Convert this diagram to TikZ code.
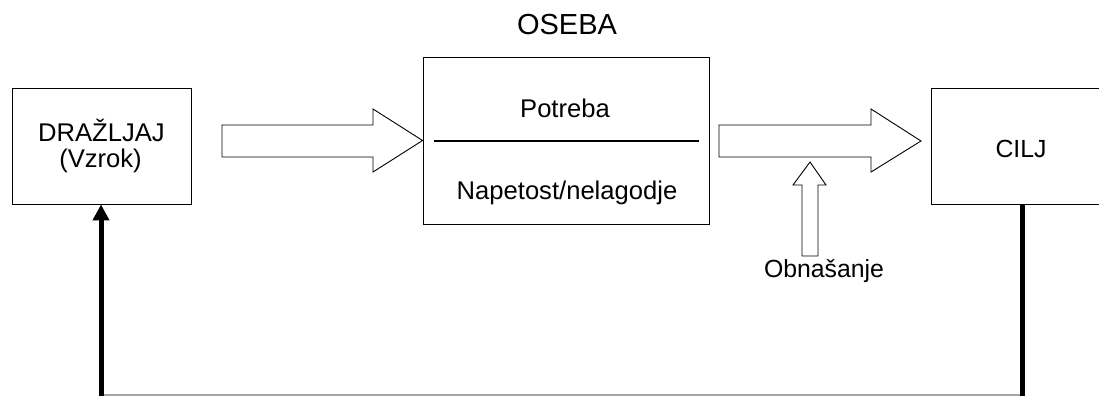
\documentclass[tikz,border=0pt]{standalone}
\usepackage{fontspec}
\setmainfont{Liberation Sans}
\usetikzlibrary{arrows.meta}

\tikzset{
  box/.style={draw=black, line width=0.9pt, fill=white, rectangle, inner sep=0pt},
  lbl/.style={inner sep=0pt, anchor=base, font=\fontsize{25.6}{30}\selectfont},
  lblsmall/.style={inner sep=0pt, anchor=base, font=\fontsize{24.8}{29}\selectfont},
  blockarrow/.style={draw=black, line width=0.9pt, fill=white, line join=miter},
  feedback/.style={line width=5pt, black},
  baseline line/.style={line width=1.5pt, black!35}
}

\begin{document}
\begin{tikzpicture}[x=1pt, y=-1pt]
  \useasboundingbox (0,0) rectangle (1099,396);
  \clip (0,0) rectangle (1099,396);

  % boxes
  \node[box, minimum width=179pt, minimum height=116pt] (stim) at (101.5,146) {};
  \node[box, minimum width=286pt, minimum height=167pt] (person) at (566,140.5) {};
  \node[box, minimum width=180pt, minimum height=116pt] (goal) at (1021,146) {};

  % texts
  \node[lbl] (stimtxt) at (101.5,141) {DRAŽLJAJ};
  \node[lbl] (causetxt) at (100.5,167) {(Vzrok)};
  \node[inner sep=0pt, anchor=base, font=\fontsize{29}{33}\selectfont] (persontitle) at (567,35) {OSEBA};
  \node[lbl] (needtxt) at (565,117) {Potreba};
  \node[lbl] (tensiontxt) at (567,199) {Napetost/nelagodje};
  \node[lblsmall] (goaltxt) at (1021,157) {CILJ};
  \node[lblsmall] (behavtxt) at (824,277) {Obnašanje};

  % divider inside the person box
  \draw[line width=2pt] (434,141) -- (699,141);

  % block arrows
  \draw[blockarrow] (222,125) -- (373,125) -- (373,109) -- (person.west) -- (373,172) -- (373,157) -- (222,157) -- cycle;
  \draw[blockarrow] (719,125) -- (871,125) -- (871,109) -- (921,141) -- (871,172) -- (871,157) -- (719,157) -- cycle;
  \draw[blockarrow] (802,256) -- (802,185) -- (793,185) -- (810,162) -- (826,185) -- (818,185) -- (818,256) -- cycle;

  % feedback loop
  \coordinate (fbL) at (101,396);
  \coordinate (fbR) at (1022,396);
  \draw[baseline line] (101,395) -- (1022,395);
  \draw[feedback] (goal.south -| fbR) -- (fbR);
  \draw[feedback, -{Triangle[length=16pt, width=16pt]}] (fbL) -- (stim.south -| fbL);
\end{tikzpicture}
\end{document}
